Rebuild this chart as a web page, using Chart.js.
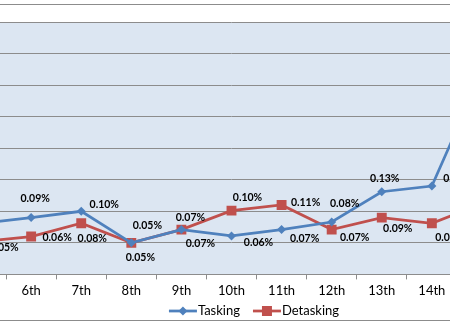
<!DOCTYPE html>
<html>
<head>
<meta charset="utf-8">
<script src="https://cdn.jsdelivr.net/npm/chart.js@4.4.0/dist/chart.umd.min.js"></script>
<style>
html, body { margin:0; padding:0; background:#fff; overflow:hidden; width:450px; height:326px; }
#myChart { position:absolute; left:-51px; top:0; }
</style>
</head>
<body>
<canvas id="myChart" width="600" height="326"></canvas>
<script>
// days shown on the axis (5th and 15th sit just outside the visible crop)
var days = ['5th', '6th', '7th', '8th', '9th', '10th', '11th', '12th', '13th', '14th', '15th'];
// values in percent
var tasking   = [0.081, 0.090, 0.100, 0.050, 0.071, 0.061, 0.071, 0.083, 0.131, 0.140, 0.320];
var detasking = [0.052, 0.060, 0.081, 0.050, 0.071, 0.101, 0.110, 0.071, 0.090, 0.081, 0.112];

// where each data label sits relative to its point (dx, dy)
var taskingLabelShift   = [[4,-19],[4,-19],[23,-7],[16,-17],[9,-12],[27,7],[23,9],[13,-18],[3,-13],[26,-7],[4,-19]];
var detaskingLabelShift = [[23,6],[26,1],[11,15],[9,15],[19,14],[16,-13],[24,-2],[23,8],[16,11],[18,14],[18,14]];

var blue = '#4F81BD';
var red = '#C0504D';
var gridGray = '#8c8c8c';

var backdrop = {
  id: 'backdrop',
  beforeDraw: function(chart) {
    var ctx = chart.ctx, a = chart.chartArea;
    ctx.save();
    ctx.fillStyle = '#fff';
    ctx.fillRect(0, 0, chart.width, chart.height);
    ctx.strokeStyle = gridGray;
    ctx.lineWidth = 1;
    ctx.beginPath();
    ctx.moveTo(0, 4.5); ctx.lineTo(chart.width, 4.5);
    ctx.moveTo(0, 320.5); ctx.lineTo(chart.width, 320.5);
    ctx.stroke();
    ctx.fillStyle = '#DCE6F2';
    ctx.fillRect(a.left, a.top, a.right - a.left, a.bottom - a.top);
    ctx.restore();
  }
};

var pointLabels = {
  id: 'pointLabels',
  afterDatasetsDraw: function(chart) {
    var ctx = chart.ctx;
    ctx.save();
    ctx.font = 'bold 10.5px Lato';
    ctx.fillStyle = '#000';
    ctx.textAlign = 'center';
    ctx.textBaseline = 'middle';
    chart.data.datasets.forEach(function(ds, i) {
      var meta = chart.getDatasetMeta(i);
      meta.data.forEach(function(pt, j) {
        var s = ds.labelShift[j];
        ctx.fillText(ds.data[j].toFixed(2) + '%', pt.x + s[0], pt.y + s[1]);
      });
    });
    ctx.restore();
  }
};

function drawMarker(ctx, style, x, y) {
  ctx.beginPath();
  if (style === 'rectRot') {
    ctx.moveTo(x - 4.5, y); ctx.lineTo(x, y - 4.5); ctx.lineTo(x + 4.5, y); ctx.lineTo(x, y + 4.5);
  } else {
    ctx.rect(x - 5, y - 5, 10, 10);
  }
  ctx.closePath();
  ctx.fill();
}

var legendBox = {
  id: 'legendBox',
  afterDraw: function(chart) {
    var ctx = chart.ctx;
    var sets = chart.data.datasets;
    ctx.save();
    ctx.font = '13px Lato';
    var symW = 28, gap = 1, spacing = 13;
    var total = 0;
    sets.forEach(function(ds, i) {
      total += symW + gap + ctx.measureText(ds.label).width + (i ? spacing : 0);
    });
    var x = 305 - total / 2, y = 311;
    sets.forEach(function(ds) {
      ctx.strokeStyle = ds.borderColor;
      ctx.fillStyle = ds.borderColor;
      ctx.lineWidth = 2.75;
      ctx.beginPath();
      ctx.moveTo(x, y); ctx.lineTo(x + symW, y);
      ctx.stroke();
      drawMarker(ctx, ds.pointStyle, x + symW / 2, y);
      ctx.fillStyle = '#000';
      ctx.textBaseline = 'middle';
      ctx.fillText(ds.label, x + symW + gap, y);
      x += symW + gap + ctx.measureText(ds.label).width + spacing;
    });
    ctx.restore();
  }
};

var ctx = document.getElementById('myChart');
var myChart = new Chart(ctx, {
  type: 'line',
  data: {
    labels: days,
    datasets: [{
      label: 'Tasking',
      data: tasking,
      labelShift: taskingLabelShift,
      borderColor: blue,
      backgroundColor: blue,
      borderWidth: 2.75,
      pointStyle: 'rectRot',
      pointRadius: 4.5,
      pointBorderWidth: 0,
      tension: 0
    }, {
      label: 'Detasking',
      data: detasking,
      labelShift: detaskingLabelShift,
      borderColor: red,
      backgroundColor: red,
      borderWidth: 2.75,
      pointStyle: 'rect',
      pointRadius: 7,
      pointBorderWidth: 0,
      tension: 0
    }]
  },
  options: {
    responsive: false,
    animation: false,
    layout: { padding: { top: 22, right: 42, bottom: 23, left: 0 } },
    plugins: {
      legend: { display: false },
      tooltip: { enabled: false }
    },
    scales: {
      x: {
        offset: true,
        grid: { offset: true, drawOnChartArea: false, drawTicks: true, tickLength: 5, color: gridGray },
        border: { color: gridGray },
        ticks: { font: { family: 'Lato', size: 13 }, color: '#000', padding: 4, maxRotation: 0, autoSkip: false }
      },
      y: {
        min: 0,
        max: 0.40,
        afterFit: function(scale) { scale.width = 0; },
        ticks: { display: false, stepSize: 0.05 },
        border: { display: false },
        grid: { color: gridGray, drawTicks: false }
      }
    }
  },
  plugins: [backdrop, pointLabels, legendBox]
});
</script>
</body>
</html>
